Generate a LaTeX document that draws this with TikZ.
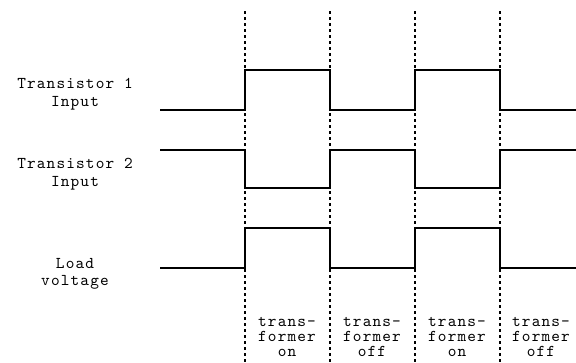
\documentclass[tikz,border=0pt]{standalone}
\usepackage{fontspec}
\newfontfamily\cour[LetterSpace=7]{lmmono10-regular.otf}
\begin{document}
\begin{tikzpicture}[x=1pt,y=-1pt,
  sig/.style={line width=1.6pt,line join=miter},
  divider/.style={line width=1.7pt,dash pattern=on 3pt off 3pt},
  lbl/.style={anchor=base,inner sep=0pt,font=\cour\fontsize{16.5}{18}\selectfont},
  plbl/.style={lbl,text height=9pt,text depth=0pt}]
\useasboundingbox (0,0) rectangle (576,362);
% dividers
\foreach \x in {245,330,415,500}
  \draw[divider] (\x,11) -- (\x,362);
% labels
\node[lbl] (t1a) at (75,88) {Transistor 1};
\node[lbl] (t1b) at (75,106) {Input};
\node[lbl] (t2a) at (75,168) {Transistor 2};
\node[lbl] (t2b) at (75,186) {Input};
\node[lbl] (lda) at (75,268) {Load};
\node[lbl] (ldb) at (75,285) {voltage};
\foreach \x/\n/\w in {287/p1/on,372/p2/off,457/p3/on,541/p4/off}{
  \node[plbl] (\n a) at (\x,326) {trans-};
  \node[plbl] (\n b) at (\x,341) {former};
  \node[plbl] (\n c) at (\x,356) {\w};
}
% signals
\draw[sig] (160,110) -- (245,110) -- (245,70) -- (330,70) -- (330,110) -- (415,110) -- (415,70) -- (500,70) -- (500,110) -- (576,110);
\draw[sig] (160,150) -- (245,150) -- (245,188) -- (330,188) -- (330,150) -- (415,150) -- (415,188) -- (500,188) -- (500,150) -- (576,150);
\draw[sig] (160,268) -- (245,268) -- (245,228) -- (330,228) -- (330,268) -- (415,268) -- (415,228) -- (500,228) -- (500,268) -- (576,268);
\end{tikzpicture}
\end{document}
